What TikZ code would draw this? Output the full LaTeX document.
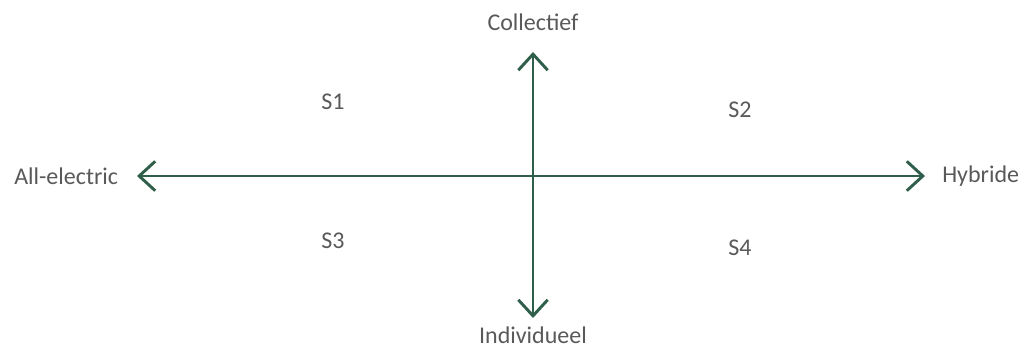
\documentclass[tikz,border=0pt]{standalone}
\usepackage{fontspec}
\setmainfont{Carlito}
\usetikzlibrary{arrows.meta}
\usetikzlibrary{positioning}

\definecolor{axisgreen}{HTML}{2F5F4B}
\definecolor{labelgray}{HTML}{595959}

\tikzset{
  axis/.style={axisgreen,line width=2.2pt,
    {Straight Barb[length=12pt,width=22pt,line width=2.2pt]}-{Straight Barb[length=12pt,width=22pt,line width=2.2pt]}},
  lbl/.style={font=\fontsize{18}{21}\selectfont,text=labelgray,inner sep=0pt}
}

\begin{document}
\begin{tikzpicture}[x=0.75pt,y=-0.75pt]
\useasboundingbox (0,0) rectangle (1019,347);
% axis ends
\coordinate (W) at (137,176);
\coordinate (E) at (925,176);
\coordinate (N) at (533,52);
\coordinate (S) at (533,318);
\draw[axis] (W) -- (E);
\draw[axis] (N) -- (S);

% axis labels
\node[lbl] (collectief) at (533,22) {Collectief};
\node[lbl] (individueel) at (533,335) {Individueel};
\node[lbl,anchor=west] (allelectric) at (14,176) {All-electric};
\node[lbl,anchor=west] (hybride) at (942,176) {Hybride};

% scenarios
\node[lbl] (s1) at (333,102) {S1};
\node[lbl] (s2) at (740,110) {S2};
\node[lbl] (s3) at (333,241) {S3};
\node[lbl] (s4) at (740,248) {S4};
\end{tikzpicture}
\end{document}
